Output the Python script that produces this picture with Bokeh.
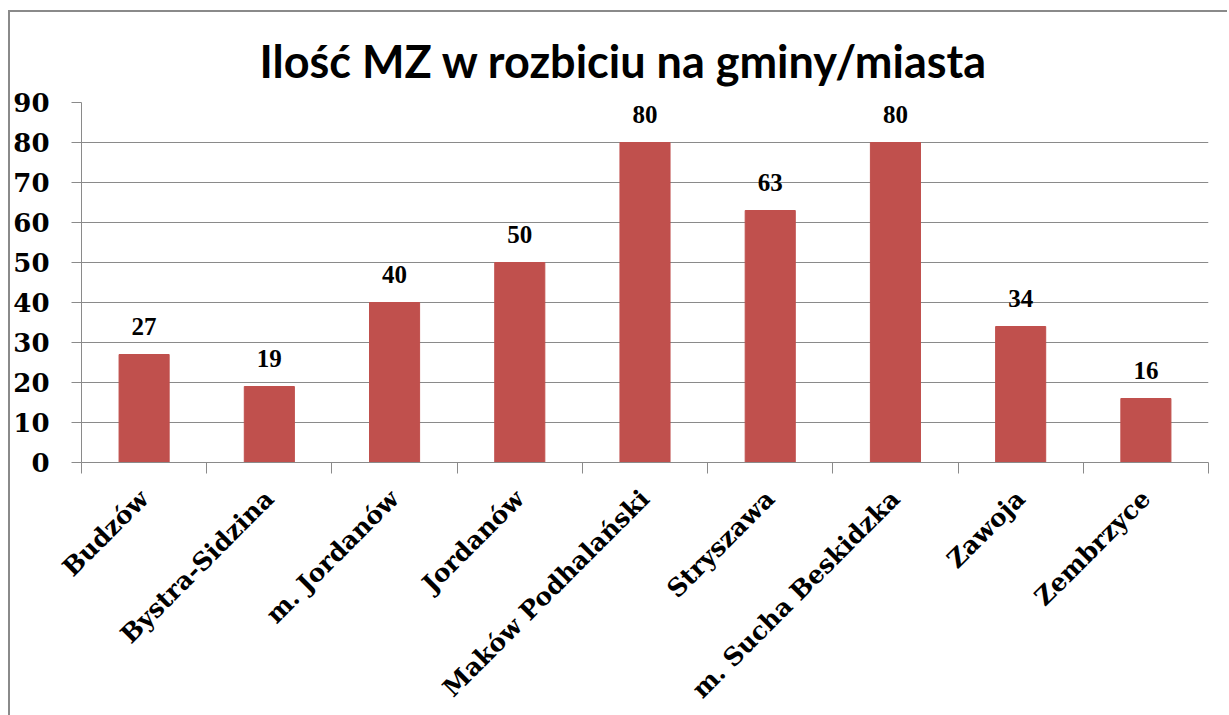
from math import pi
from bokeh.plotting import figure
from bokeh.models import (Range1d, LinearAxis, FixedTicker, ColumnDataSource, LabelSet)
from bokeh.embed import file_html
from bokeh.resources import INLINE

# ---- data ----
categories = ["Budzów", "Bystra-Sidzina", "m. Jordanów", "Jordanów", "Maków Podhalański",
              "Stryszawa", "m. Sucha Beskidzka", "Zawoja", "Zembrzyce"]
values = [27, 19, 40, 50, 80, 63, 80, 34, 16]
y_ticks = [0, 10, 20, 30, 40, 50, 60, 70, 80, 90]
title_text = "Ilość MZ w rozbiciu na gminy/miasta"

GRAY = "#8a8a8a"
BAR = "#C0504D"
SERIF = "DejaVu Serif"

n = len(categories)
xpos = [i + 0.5 for i in range(n)]          # category centres on a 0..n axis
bounds = list(range(n + 1))                  # category boundaries

src = ColumnDataSource(dict(x=xpos, cat=categories, val=values, lab=[str(v) for v in values]))

p = figure(width=1217, height=703,
           x_range=Range1d(0, n), y_range=Range1d(0, 90),
           x_axis_location=None, y_axis_location=None,
           output_backend="svg", toolbar_location=None,
           min_border_left=70, min_border_right=21, min_border_top=90, min_border_bottom=252)
p.outline_line_color = None
p.background_fill_color = "white"
p.border_fill_color = "white"
# chart box edge (top and left border of the embedded chart object)
p.margin = (10, 0, 0, 8)
p.styles = {"box-sizing": "content-box",
            "border-top": f"2px solid {GRAY}", "border-left": f"2px solid {GRAY}"}

# title
p.title.text = title_text
p.title.text_font = "Lato"
p.title.text_font_style = "bold"
p.title.text_font_size = "45px"
p.title.text_color = "black"
p.title.align = "left"
p.title.offset = 178
p.title.standoff = 29

# grid: horizontal only
p.xgrid.visible = False
p.ygrid.ticker = FixedTicker(ticks=y_ticks)
p.ygrid.grid_line_color = GRAY
p.ygrid.grid_line_width = 1

p.vbar(x="x", top="val", width=0.4, source=src, fill_color=BAR, line_color=BAR)

# y axis
yaxis = LinearAxis(ticker=FixedTicker(ticks=y_ticks), axis_line_color=GRAY, major_tick_line_color=GRAY,
                   major_tick_out=10, major_tick_in=0, minor_tick_out=0, minor_tick_in=0,
                   major_label_standoff=22, major_label_text_font=SERIF,
                   major_label_text_font_style="bold", major_label_text_font_size="26px",
                   major_label_text_color="black")
p.add_layout(yaxis, "left")

# category boundary ticks
tick_axis = LinearAxis(ticker=FixedTicker(ticks=bounds),
                       axis_line_color=GRAY, major_tick_line_color=GRAY, major_tick_out=11, major_tick_in=0,
                       minor_tick_out=0, minor_tick_in=0, major_label_text_font_size="0px",
                       major_label_text_alpha=0, major_label_standoff=0)
p.add_layout(tick_axis, "below")

# category labels
cat_axis = LinearAxis(ticker=FixedTicker(ticks=xpos),
                      major_label_overrides={x: c for x, c in zip(xpos, categories)},
                      axis_line_color=None, major_tick_out=0, major_tick_in=0,
                      minor_tick_out=0, minor_tick_in=0,
                      major_label_orientation=pi / 4, major_label_standoff=21,
                      major_label_text_font=SERIF, major_label_text_font_style="bold",
                      major_label_text_font_size="25px", major_label_text_color="black")
p.add_layout(cat_axis, "below")

# value labels
labels = LabelSet(x="x", y="val", text="lab", source=src, y_offset=20,
                  text_align="center", text_baseline="alphabetic", text_font=SERIF,
                  text_font_style="bold", text_font_size="25px", text_color="black")
p.add_layout(labels)

open("out.html", "w").write(file_html(p, INLINE))
